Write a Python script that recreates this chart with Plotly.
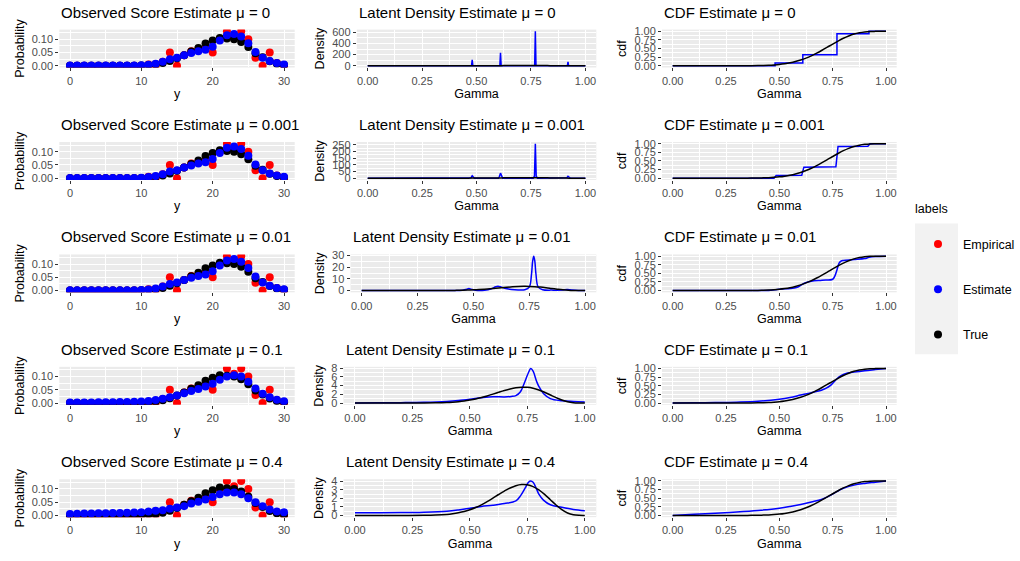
import plotly.graph_objects as go

W, H = 1020, 561

# ---------------- data ----------------
mu_labels = ["0", "0.001", "0.01", "0.1", "0.4"]

score_y = list(range(31))
empirical_prob = [0, 0, 0, 0, 0, 0, 0, 0, 0, 0, 0,
                  0.005, 0.0, 0.015, 0.05, 0.0, 0.04, 0.055, 0.06, 0.065, 0.05,
                  0.10, 0.13, 0.11, 0.13, 0.10, 0.03, 0.0, 0.05, 0.01, 0.0]
true_prob = [0, 0, 0, 0, 0, 0, 0, 0, 0, 0, 0.001,
             0.002, 0.005, 0.01, 0.018, 0.028, 0.04, 0.054, 0.067, 0.084, 0.095,
             0.105, 0.103, 0.1, 0.09, 0.071, 0.047, 0.032, 0.017, 0.008, 0.003]
est_prob_mu0 = [0.001, 0.001, 0.001, 0.001, 0.001, 0.001, 0.001, 0.001, 0.001, 0.001, 0.002,
                0.004, 0.008, 0.015, 0.025, 0.03, 0.04, 0.048, 0.055, 0.06, 0.072,
                0.095, 0.115, 0.12, 0.11, 0.085, 0.052, 0.03, 0.018, 0.01, 0.005]
est_prob_mu0001 = [0.001, 0.001, 0.001, 0.001, 0.001, 0.001, 0.001, 0.001, 0.001, 0.001, 0.002,
                   0.004, 0.008, 0.015, 0.025, 0.03, 0.04, 0.048, 0.055, 0.06, 0.072,
                   0.095, 0.115, 0.12, 0.11, 0.085, 0.052, 0.03, 0.018, 0.01, 0.005]
est_prob_mu001 = [0.001, 0.001, 0.001, 0.001, 0.001, 0.001, 0.001, 0.001, 0.001, 0.001, 0.002,
                  0.004, 0.008, 0.015, 0.025, 0.031, 0.04, 0.048, 0.055, 0.061, 0.073,
                  0.095, 0.114, 0.119, 0.109, 0.085, 0.053, 0.031, 0.018, 0.01, 0.005]
est_prob_mu01 = [0.002, 0.002, 0.002, 0.002, 0.003, 0.003, 0.003, 0.004, 0.004, 0.005, 0.006,
                 0.008, 0.011, 0.016, 0.022, 0.028, 0.037, 0.045, 0.053, 0.062, 0.073,
                 0.088, 0.1, 0.105, 0.1, 0.08, 0.055, 0.035, 0.022, 0.012, 0.007]
est_prob_mu04 = [0.005, 0.006, 0.007, 0.007, 0.008, 0.008, 0.009, 0.009, 0.010, 0.011, 0.012,
                 0.015, 0.018, 0.02, 0.025, 0.03, 0.035, 0.045, 0.052, 0.06, 0.07,
                 0.08, 0.087, 0.087, 0.08, 0.065, 0.05, 0.035, 0.022, 0.015, 0.012]
est_prob_rows = [est_prob_mu0, est_prob_mu0001, est_prob_mu001, est_prob_mu01, est_prob_mu04]

true_gamma = [0, 0.1, 0.2, 0.3, 0.35, 0.4, 0.425, 0.45, 0.475, 0.5, 0.525, 0.55, 0.575,
              0.6, 0.625, 0.65, 0.675, 0.7, 0.725, 0.75, 0.775, 0.8, 0.825, 0.85,
              0.875, 0.9, 0.925, 0.95, 0.975, 1.0]
true_density = [0, 0, 0, 0.01, 0.04, 0.12, 0.2, 0.31, 0.46, 0.67, 0.93, 1.25, 1.62,
                2.03, 2.46, 2.87, 3.23, 3.5, 3.63, 3.6, 3.39, 3.0, 2.47, 1.85,
                1.23, 0.69, 0.29, 0.08, 0.01, 0]
true_cdf = [0, 0, 0, 0.0001, 0.0007, 0.005, 0.009, 0.015, 0.025, 0.038, 0.058, 0.085, 0.121,
            0.167, 0.223, 0.289, 0.366, 0.45, 0.539, 0.63, 0.717, 0.798, 0.866, 0.921,
            0.959, 0.983, 0.995, 0.999, 1.0, 1.0]

est_density_gamma_mu0 = [0, 0.477, 0.48, 0.483, 0.607, 0.61, 0.613, 0.767, 0.77, 0.773,
                         0.917, 0.92, 0.923, 1.0]
est_density_mu0 = [0, 0, 107, 0, 0, 232, 0, 0, 618, 0, 0, 71, 0, 0]
est_density_gamma_mu0001 = [0, 0.47, 0.475, 0.48, 0.485, 0.49, 0.6, 0.605, 0.61, 0.615, 0.62,
                            0.76, 0.766, 0.77, 0.774, 0.78, 0.91, 0.915, 0.92, 0.925, 0.93, 1.0]
est_density_mu0001 = [0, 0, 4, 18, 4, 0, 0, 12, 38, 12, 0, 0, 15, 258, 15, 0, 0, 3, 14, 3, 0, 0]
est_density_gamma_mu001 = [0, 0.4, 0.45, 0.47, 0.48, 0.49, 0.51, 0.55, 0.58, 0.6, 0.61, 0.62,
                           0.64, 0.67, 0.7, 0.73, 0.75, 0.76, 0.765, 0.77, 0.775, 0.78, 0.79,
                           0.81, 0.85, 0.9, 0.92, 0.94, 0.97, 1.0]
est_density_mu001 = [0, 0, 0.2, 1.2, 1.7, 1.2, 0.3, 0.3, 1.5, 3.3, 3.7, 3.3,
                     2.0, 1.0, 0.6, 0.8, 3.0, 14, 25, 29.5, 25, 14, 3.0,
                     0.8, 0.4, 0.6, 0.85, 0.5, 0.1, 0]
est_density_gamma_mu01 = [0, 0.1, 0.2, 0.3, 0.4, 0.45, 0.5, 0.55, 0.6, 0.65, 0.68, 0.7, 0.72,
                          0.74, 0.755, 0.765, 0.775, 0.79, 0.8, 0.82, 0.85, 0.9, 0.95, 1.0]
est_density_mu01 = [0.03, 0.05, 0.08, 0.15, 0.35, 0.55, 0.85, 1.2, 1.45, 1.4, 1.5, 1.7, 2.6,
                    5.0, 7.0, 7.9, 7.3, 5.0, 3.8, 2.2, 1.0, 0.5, 0.35, 0.25]
est_density_gamma_mu04 = [0, 0.1, 0.2, 0.3, 0.4, 0.45, 0.5, 0.55, 0.6, 0.65, 0.7, 0.72, 0.74,
                          0.755, 0.765, 0.775, 0.79, 0.8, 0.82, 0.85, 0.9, 0.95, 1.0]
est_density_mu04 = [0.32, 0.32, 0.33, 0.38, 0.5, 0.65, 0.85, 1.05, 1.2, 1.4, 1.7, 2.3, 3.2,
                    3.9, 4.05, 3.9, 3.1, 2.5, 1.8, 1.25, 0.95, 0.7, 0.55]
est_density_gamma_rows = [est_density_gamma_mu0, est_density_gamma_mu0001, est_density_gamma_mu001,
                          est_density_gamma_mu01, est_density_gamma_mu04]
est_density_rows = [est_density_mu0, est_density_mu0001, est_density_mu001,
                    est_density_mu01, est_density_mu04]

est_cdf_gamma_mu0 = [0, 0.48, 0.61, 0.77, 0.92, 1.0]
est_cdf_mu0 = [0, 0.08, 0.32, 0.93, 1.0, 1.0]
est_cdf_gamma_mu0001 = [0, 0.475, 0.485, 0.605, 0.615, 0.765, 0.775, 0.915, 0.925, 1.0]
est_cdf_mu0001 = [0, 0, 0.075, 0.085, 0.32, 0.33, 0.92, 0.93, 1.0, 1.0]
est_cdf_gamma_mu001 = [0, 0.4, 0.45, 0.48, 0.51, 0.55, 0.58, 0.6, 0.62, 0.65, 0.7, 0.75, 0.76,
                       0.77, 0.78, 0.79, 0.8, 0.85, 0.9, 0.92, 0.95, 1.0]
est_cdf_mu001 = [0, 0, 0.005, 0.025, 0.045, 0.06, 0.09, 0.15, 0.22, 0.27, 0.3, 0.33, 0.42,
                 0.6, 0.8, 0.86, 0.875, 0.9, 0.93, 0.965, 0.99, 1.0]
est_cdf_gamma_mu01 = [0, 0.1, 0.2, 0.3, 0.4, 0.5, 0.55, 0.6, 0.65, 0.7, 0.72, 0.74, 0.76,
                      0.78, 0.8, 0.82, 0.85, 0.9, 0.95, 1.0]
est_cdf_mu01 = [0, 0.005, 0.012, 0.025, 0.05, 0.11, 0.16, 0.23, 0.3, 0.38, 0.43, 0.51, 0.64,
                0.76, 0.83, 0.87, 0.9, 0.94, 0.97, 1.0]
est_cdf_gamma_mu04 = [0, 0.1, 0.2, 0.3, 0.4, 0.5, 0.55, 0.6, 0.65, 0.7, 0.75, 0.78, 0.8,
                      0.85, 0.9, 0.95, 1.0]
est_cdf_mu04 = [0, 0.032, 0.065, 0.1, 0.145, 0.21, 0.26, 0.32, 0.39, 0.47, 0.62, 0.73, 0.79,
                0.88, 0.93, 0.965, 1.0]
est_cdf_gamma_rows = [est_cdf_gamma_mu0, est_cdf_gamma_mu0001, est_cdf_gamma_mu001,
                      est_cdf_gamma_mu01, est_cdf_gamma_mu04]
est_cdf_rows = [est_cdf_mu0, est_cdf_mu0001, est_cdf_mu001, est_cdf_mu01, est_cdf_mu04]

density_dtick = [200, 50, 10, 2, 1]
legend_labels = ["Empirical", "Estimate", "True"]
colors = {"Empirical": "#FF0000", "Estimate": "#0000FF", "True": "#000000"}

# ---------------- layout geometry (pixels) ----------------
col_left_px = [[59.3] * 5,
               [356.8, 356.8, 350.5, 343.5, 343.5],
               [662.0] * 5]
col_right_px = [294.7, 596.3, 896.7]
row_top_px = [25, 139.25, 253.5, 367.75, 482]
panel_h = 38.5

FONT = "Liberation Sans, Arial, sans-serif"


def padded(vals):
    lo, hi = min(vals), max(vals)
    span = hi - lo
    return [lo - 0.05 * span, hi + 0.05 * span]


def xtitle(text):
    return dict(text=text, standoff=3, font=dict(size=12.5, color="black", family=FONT))


def ytitle(text):
    return dict(text=text, standoff=4, font=dict(size=12.5, color="black", family=FONT))


def minor(dt):
    return dict(dtick=dt, showgrid=True, gridcolor="white", gridwidth=0.5)


fig = go.Figure()
layout_axes = {}
annotations = []

axis_common = dict(
    showgrid=True, gridcolor="white", gridwidth=1.1, zeroline=False, showline=False,
    ticks="outside", ticklen=3, tickwidth=1, tickcolor="#333333",
    tickfont=dict(size=11, color="#4D4D4D", family=FONT),
)

n = 0
for r in range(5):
    for c in range(3):
        n += 1
        xa = "x" if n == 1 else f"x{n}"
        ya = "y" if n == 1 else f"y{n}"
        xkey = "xaxis" if n == 1 else f"xaxis{n}"
        ykey = "yaxis" if n == 1 else f"yaxis{n}"
        top = row_top_px[r]
        bot = top + panel_h
        xdom = [col_left_px[c][r] / W, col_right_px[c] / W]
        ydom = [1 - bot / H, 1 - top / H]

        if c == 0:
            show = (r == 0)
            for lab, ys in [("Empirical", empirical_prob), ("True", true_prob),
                            ("Estimate", est_prob_rows[r])]:
                fig.add_trace(go.Scatter(
                    x=score_y, y=ys, mode="markers", xaxis=xa, yaxis=ya,
                    marker=dict(color=colors[lab], size=8),
                    name=lab, legendgroup=lab, showlegend=show,
                    legendrank=legend_labels.index(lab) + 1,
                ))
            yr = padded(empirical_prob + true_prob + est_prob_rows[r])
            xr = padded(score_y)
            title = f"Observed Score Estimate \u03bc = {mu_labels[r]}"
            layout_axes[xkey] = dict(axis_common, domain=xdom, anchor=ya, range=xr,
                                     tick0=0, dtick=10, minor=minor(5), title=xtitle("y"))
            layout_axes[ykey] = dict(axis_common, domain=ydom, anchor=xa, range=yr,
                                     tick0=0, dtick=0.05, tickformat=".2f",
                                     minor=minor(0.025), title=ytitle("Probability"))
        elif c == 1:
            smooth = r >= 2
            fig.add_trace(go.Scatter(
                x=est_density_gamma_rows[r], y=est_density_rows[r], mode="lines",
                xaxis=xa, yaxis=ya, line=dict(color=colors["Estimate"], width=1.5,
                                              shape="spline" if smooth else "linear"),
                name="Estimate", showlegend=False,
            ))
            fig.add_trace(go.Scatter(
                x=true_gamma, y=true_density, mode="lines", xaxis=xa, yaxis=ya,
                line=dict(color=colors["True"], width=1.5, shape="spline"),
                name="True", showlegend=False,
            ))
            yr = padded(est_density_rows[r] + true_density)
            xr = padded(true_gamma)
            dt = density_dtick[r]
            title = f"Latent Density Estimate \u03bc = {mu_labels[r]}"
            layout_axes[xkey] = dict(axis_common, domain=xdom, anchor=ya, range=xr,
                                     tick0=0, dtick=0.25, tickformat=".2f",
                                     minor=minor(0.125), title=xtitle("Gamma"))
            layout_axes[ykey] = dict(axis_common, domain=ydom, anchor=xa, range=yr,
                                     tick0=0, dtick=dt, minor=minor(dt / 2),
                                     title=ytitle("Density"))
        else:
            fig.add_trace(go.Scatter(
                x=est_cdf_gamma_rows[r], y=est_cdf_rows[r], mode="lines",
                xaxis=xa, yaxis=ya,
                line=dict(color=colors["Estimate"], width=1.5,
                          shape="hv" if r == 0 else ("linear" if r == 1 else "spline")),
                name="Estimate", showlegend=False,
            ))
            fig.add_trace(go.Scatter(
                x=true_gamma, y=true_cdf, mode="lines", xaxis=xa, yaxis=ya,
                line=dict(color=colors["True"], width=1.5, shape="spline"),
                name="True", showlegend=False,
            ))
            yr = padded(true_cdf + est_cdf_rows[r])
            xr = padded(true_gamma)
            title = f"CDF Estimate \u03bc = {mu_labels[r]}"
            layout_axes[xkey] = dict(axis_common, domain=xdom, anchor=ya, range=xr,
                                     tick0=0, dtick=0.25, tickformat=".2f",
                                     minor=minor(0.125), title=xtitle("Gamma"))
            layout_axes[ykey] = dict(axis_common, domain=ydom, anchor=xa, range=yr,
                                     tick0=0, dtick=0.25, tickformat=".2f",
                                     minor=minor(0.125), title=ytitle("cdf"))

        annotations.append(dict(
            text=title, xref=f"{xa} domain", yref=f"{ya} domain", x=0, y=1,
            xanchor="left", yanchor="bottom", yshift=7, showarrow=False,
            font=dict(size=15, color="black", family=FONT),
        ))

shapes = [dict(type="rect", xref="paper", yref="paper",
               x0=915 / W, x1=958 / W, y0=1 - 355 / H, y1=1 - 222 / H,
               fillcolor="#F2F2F2", line=dict(width=0), layer="below")]

fig.update_layout(
    width=W, height=H,
    margin=dict(l=0, r=0, t=0, b=0),
    plot_bgcolor="#EBEBEB", paper_bgcolor="white",
    font=dict(family=FONT, color="black"),
    annotations=annotations,
    shapes=shapes,
    legend=dict(
        title=dict(text="labels<br> ", side="top", font=dict(size=12.5, family=FONT)),
        x=913 / W, y=1 - 195 / H, xanchor="left", yanchor="top",
        bgcolor="rgba(0,0,0,0)", font=dict(size=12.5, family=FONT),
        tracegroupgap=26, itemwidth=40,
    ),
    **layout_axes,
)

fig.write_html(
    "out.html",
    config={"displayModeBar": False},
    post_script=("var gd=document.getElementById('{plot_id}');"
                 "document.body.style.margin='0px';"
                 "gd.style.position='absolute';gd.style.left='0px';gd.style.top='0px';"),
)
